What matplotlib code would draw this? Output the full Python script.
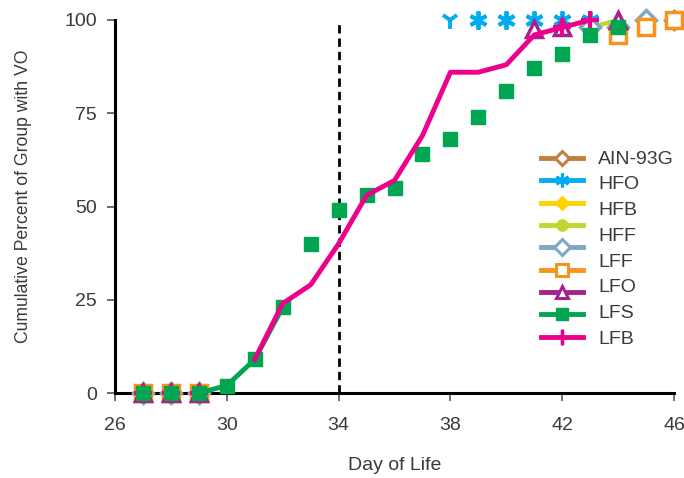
import numpy as np
import matplotlib
matplotlib.use("Agg")
import matplotlib.pyplot as plt
from matplotlib.lines import Line2D

plt.rcParams['font.family'] = ['Liberation Sans', 'DejaVu Sans']

N = np.nan
days = list(range(27, 47))
#            27 28 29 30 31 32 33 34 35 36 37 38 39 40 41 42 43 44 45 46
ain93g   = [0, 0, 0, N, N, N, N, N, N, N, N, N, N, N, N, N, N, N, N, 100]
hfo      = [N, N, N, N, N, N, N, N, N, N, N, 100, 100, 100, 100, 100, 100, N, N, N]
hfb      = [0, 0, 0, N, N, N, N, N, N, N, N, N, N, N, N, N, N, N, N, N]
hff      = [0, 0, 0, N, N, N, N, N, N, N, N, N, N, N, N, N, 98, 100, N, N]
lff      = [0, 0, 0, N, N, N, N, N, N, N, N, N, N, N, N, N, 98, 98, 100, N]
lff_sq   = [0, 0, 0, N, N, N, N, N, N, N, N, N, N, N, N, N, N, 96, 98, 100]
lfo      = [0, 0, 0, N, N, N, N, N, N, N, N, N, N, N, 97.5, 98, N, 100, N, N]
lfs      = [0, 0, 0, 2, 9, 23, 40, 49, 53, 55, 64, 68, 74, 81, 87, 91, 96, 98, N, N]
lfb      = [0, 0, 0, N, 9, 24, 29, 40, 53, 57, 69, 86, 86, 88, 96, 98, 100, N, N, N]

legend_labels = ['AIN-93G', 'HFO', 'HFB', 'HFF', 'LFF', 'LFO', 'LFS', 'LFB']
xticks = [26, 30, 34, 38, 42, 46]
yticks = [0, 25, 50, 75, 100]
vo_day = 34

# presentation: day ranges where the series line is drawn
lfs_line = (29, 32)
lfb_line = (31, 43)
hff_line = (43, 44)
lfb_marker_days = [27, 28, 29, 42, 43]

C_AIN = '#C0803F'
C_HFO = '#00AEEF'
C_HFB = '#FFD200'
C_HFF = '#BFD730'
C_LFF = '#7FA8C2'
C_LSQ = '#F7941D'
C_LFO = '#A3238E'
C_LFS = '#00A651'
C_LFB = '#EC008C'
TXT = '#3a3a3a'

fig = plt.figure(figsize=(6.84, 4.78), dpi=100)
ax = fig.add_axes([115/684, 85/478, 559/684, 373/478])

d = np.array(days)

def seg(vals, rng):
    v = np.array(vals, dtype=float)
    m = (d >= rng[0]) & (d <= rng[1])
    return d[m], v[m]

ax.plot(d, ain93g, ls='none', marker='D', ms=9, mfc='white', mec=C_AIN, mew=2.5, clip_on=False, zorder=3)
hv = np.array(hfo, dtype=float)
ax.plot(d[12:], hv[12:], ls='none', marker=(6, 2, 0), ms=13, mec=C_HFO, mew=2.8, clip_on=False, zorder=3)
ax.plot(d[11:12], hv[11:12], ls='none', marker='1', ms=13, mec=C_HFO, mew=2.8, clip_on=False, zorder=3)
ax.plot(d, hfb, ls='none', marker='D', ms=8, color=C_HFB, clip_on=False, zorder=3)
x, y = seg(hff, hff_line)
ax.plot(x, y, color=C_HFF, lw=3.2, zorder=3)
ax.plot(d, lff, ls='none', marker='D', ms=10, mfc='white', mec=C_LFF, mew=2.5, clip_on=False, zorder=3)
ax.plot(d, lff_sq, ls='none', marker='s', ms=11, mfc='white', mec=C_LSQ, mew=2.5, clip_on=False, zorder=3)
ax.plot(d, lfo, ls='none', marker='^', ms=11, mfc='white', mec=C_LFO, mew=2.5, clip_on=False, zorder=3)
lv = np.array(lfb, dtype=float)
mk = np.isin(d, lfb_marker_days)
ax.plot(d[mk], lv[mk], ls='none', marker='+', ms=13, mec=C_LFB, mew=3, clip_on=False, zorder=3)
x, y = seg(lfs, lfs_line)
ax.plot(x, y, color=C_LFS, lw=3.5, zorder=3)
ax.plot(d, lfs, ls='none', marker='s', ms=10, color=C_LFS, clip_on=False, zorder=3)
x, y = seg(lfb, lfb_line)
ax.plot(x, y, color=C_LFB, lw=3.5, zorder=3)

ax.vlines(vo_day, 0, 100, colors='black', linestyles=(0, (3, 1.8)), lw=2.0, zorder=2)

ax.set_xlim(26, 46)
ax.set_ylim(0, 100)
ax.set_xticks(xticks)
ax.set_yticks(yticks)
for s in ['top', 'right']:
    ax.spines[s].set_visible(False)
for s in ['left', 'bottom']:
    ax.spines[s].set_linewidth(2.2)
    ax.spines[s].set_color('black')
ax.tick_params(direction='out', length=6, width=1.2, color='#555555',
               labelsize=14, labelcolor=TXT)
ax.tick_params(axis='x', pad=11)
ax.tick_params(axis='y', pad=7)
ax.set_xlabel('Day of Life', fontsize=14, color=TXT, labelpad=17)
ax.set_ylabel('Cumulative Percent of Group with VO', fontsize=12.7, color=TXT)
ax.yaxis.set_label_coords(-0.148, 0.528)

handles = [
    Line2D([], [], color=C_AIN, lw=3.5, marker='D', ms=7, mfc='white', mec=C_AIN, mew=2.2),
    Line2D([], [], color=C_HFO, lw=3.5, marker=(6, 2, 0), ms=10, mec=C_HFO, mew=2.2),
    Line2D([], [], color=C_HFB, lw=3.5, marker='D', ms=7),
    Line2D([], [], color=C_HFF, lw=3.5, marker='o', ms=8),
    Line2D([], [], color=C_LFF, lw=3.5, marker='D', ms=8, mfc='white', mec=C_LFF, mew=2.2),
    Line2D([], [], color=C_LSQ, lw=3.5, marker='s', ms=8, mfc='white', mec=C_LSQ, mew=2.2),
    Line2D([], [], color=C_LFO, lw=3.5, marker='^', ms=9, mfc='white', mec=C_LFO, mew=2.2),
    Line2D([], [], color=C_LFS, lw=3.5, marker='s', ms=8),
    Line2D([], [], color=C_LFB, lw=3.5, marker='+', ms=11, mew=2.5),
]
leg1 = ax.legend(handles, [' '] * len(handles), loc='upper left',
                 bbox_to_anchor=(541/684, 1 - 152/478), bbox_transform=fig.transFigure,
                 frameon=False, fontsize=10, handlelength=3.0, labelspacing=0.6,
                 borderpad=0, borderaxespad=0, handletextpad=0.2)
ax.add_artist(leg1)
blank = [Line2D([], [], alpha=0) for _ in legend_labels]
leg2 = ax.legend(blank, legend_labels, loc='upper left',
                 bbox_to_anchor=(598/684, 1 - 150/478), bbox_transform=fig.transFigure,
                 frameon=False, fontsize=14, handlelength=0, handletextpad=0,
                 labelspacing=0.42, borderpad=0, borderaxespad=0, labelcolor=TXT)

fig.savefig('out.png', dpi=100)
